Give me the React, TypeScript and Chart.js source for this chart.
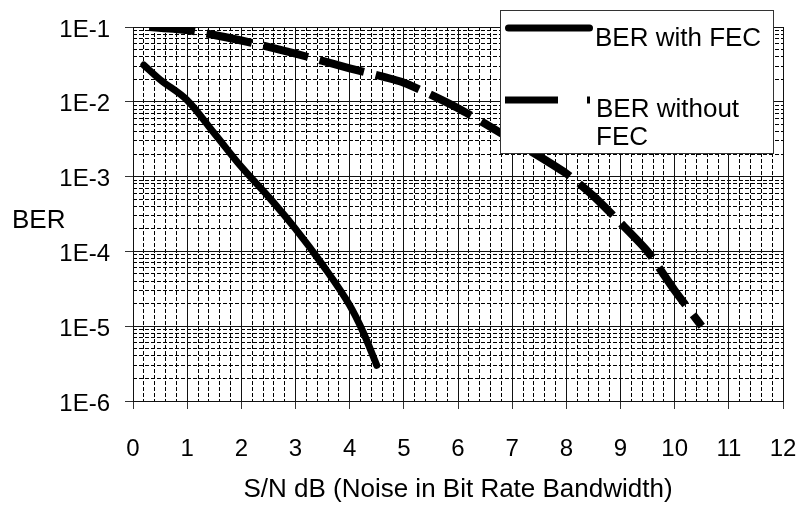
import React, { useEffect, useRef } from 'react';
import { Chart, registerables } from 'chart.js';

Chart.register(...registerables);

// ---- data ----
const fecX = [0.2, 0.5, 1, 1.5, 2, 2.5, 3, 3.5, 4, 4.25, 4.5];
const fecBER = [0.031, 0.0198, 0.0105, 0.0038, 0.00135, 0.00054, 0.0002, 0.000066, 0.000019, 0.0000083, 0.000003];

const noFecX = [0.3, 1, 2, 3, 4, 5, 6, 7, 8, 8.5, 9, 9.5, 10, 10.5];
const noFecBER = [0.1, 0.091, 0.066, 0.044, 0.028, 0.018, 0.0082, 0.0031, 0.0011, 0.00055, 0.00024, 0.0001, 0.00003, 0.00001];

const seriesNames = ['BER with FEC', 'BER without FEC'];

const yDecades = [1e-6, 1e-5, 1e-4, 1e-3, 1e-2, 1e-1];
const yTickLabels = ['1E-6', '1E-5', '1E-4', '1E-3', '1E-2', '1E-1'];
const yMinorFactors = [2, 3, 4, 5, 6, 7, 8, 9];

const xMin = 0;
const xMax = 12;
const xMajorStep = 1;
const xMinorStep = 0.2;

const yTitle = 'BER';
const xTitle = 'S/N dB (Noise in Bit Rate Bandwidth)';

const FONT = '"Liberation Sans", Arial, Helvetica, sans-serif';

const zeroPad = (s: any) => {
  s.paddingLeft = 0;
  s.paddingRight = 0;
  s.paddingTop = 0;
  s.paddingBottom = 0;
};

const overlayPlugin = {
  id: 'overlay',
  afterDraw(chart: any) {
    const { ctx, chartArea } = chart;
    const ds = chart.data.datasets;
    ctx.save();
    // y axis title (horizontal)
    ctx.fillStyle = '#000';
    ctx.font = `26px ${FONT}`;
    ctx.textBaseline = 'alphabetic';
    ctx.textAlign = 'left';
    ctx.fillText(yTitle, 12, 228);

    // legend box
    const left = chartArea.right - 283;
    const top = chartArea.top - 17;
    const w = 273;
    const h = 143;
    ctx.fillStyle = '#fff';
    ctx.fillRect(left, top, w, h);
    ctx.strokeStyle = '#333';
    ctx.lineWidth = 1;
    ctx.setLineDash([]);
    ctx.strokeRect(left + 0.5, top + 0.5, w, h);

    // sample 1: solid
    ctx.strokeStyle = ds[0].borderColor;
    ctx.lineWidth = 7;
    ctx.lineCap = 'round';
    ctx.beginPath();
    ctx.moveTo(left + 8.5, top + 18);
    ctx.lineTo(left + 89.5, top + 18);
    ctx.stroke();

    // sample 2: dashed
    ctx.strokeStyle = ds[1].borderColor;
    ctx.lineCap = 'butt';
    ctx.lineWidth = 7;
    ctx.setLineDash([53, 29]);
    ctx.beginPath();
    ctx.moveTo(left + 5, top + 90);
    ctx.lineTo(left + 90, top + 90);
    ctx.stroke();
    ctx.setLineDash([]);

    // texts with wrapping
    ctx.fillStyle = '#000';
    ctx.font = `26px ${FONT}`;
    const maxW = 175;
    const drawWrapped = (text: string, x: number, y: number, lh: number) => {
      const words = text.split(' ');
      let line = '';
      let yy = y;
      for (const word of words) {
        const test = line ? line + ' ' + word : word;
        if (ctx.measureText(test).width > maxW && line) {
          ctx.fillText(line, x, yy);
          line = word;
          yy += lh;
        } else {
          line = test;
        }
      }
      if (line) ctx.fillText(line, x, yy);
    };
    drawWrapped(seriesNames[0], left + 95, top + 36, 28);
    drawWrapped(seriesNames[1], left + 96, top + 107, 28);
    ctx.restore();
  },
};

export default function App() {
  const canvasRef = useRef<HTMLCanvasElement | null>(null);

  useEffect(() => {
    document.body.style.margin = '0';
    const canvas = canvasRef.current;
    if (!canvas) return;

    const chart = new Chart(canvas, {
      type: 'line',
      data: {
        datasets: [
          {
            label: seriesNames[0],
            data: fecX.map((x, i) => ({ x, y: fecBER[i] })),
            borderColor: '#000',
            borderWidth: 7,
            borderCapStyle: 'round',
            borderJoinStyle: 'round',
            pointRadius: 0,
            fill: false,
            cubicInterpolationMode: 'monotone',
          },
          {
            label: seriesNames[1],
            data: noFecX.map((x, i) => ({ x, y: noFecBER[i] })),
            borderColor: '#000',
            borderWidth: 8,
            borderDash: [46, 12],
            borderCapStyle: 'butt',
            pointRadius: 0,
            fill: false,
            tension: 0.2,
            clip: 0,
          },
        ] as any,
      },
      options: {
        animation: false,
        responsive: false,
        devicePixelRatio: 1,
        layout: { padding: { top: 27, right: 20, left: 0, bottom: 0 } },
        plugins: {
          legend: { display: false },
          tooltip: { enabled: false },
        },
        scales: {
          x2: {
            type: 'linear',
            position: 'bottom',
            min: xMin,
            max: xMax,
            ticks: { stepSize: xMinorStep, display: false },
            grid: { color: '#000', lineWidth: 1, drawTicks: false },
            border: { display: false, dash: [4, 2] },
            afterFit: (s: any) => { s.height = 0; zeroPad(s); },
          },
          y2: {
            type: 'logarithmic',
            position: 'left',
            min: yDecades[0],
            max: yDecades[yDecades.length - 1],
            afterBuildTicks: (s: any) => {
              const t: any[] = [];
              yDecades.slice(0, -1).forEach((d) => yMinorFactors.forEach((f) => t.push({ value: d * f })));
              s.ticks = t;
            },
            ticks: { display: false },
            grid: { color: '#000', lineWidth: 1, drawTicks: false },
            border: { display: false, dash: [4, 2] },
            afterFit: (s: any) => { s.width = 0; zeroPad(s); },
          },
          x: {
            type: 'linear',
            position: 'bottom',
            min: xMin,
            max: xMax,
            ticks: {
              stepSize: xMajorStep,
              autoSkip: false,
              maxRotation: 0,
              padding: 26,
              color: '#000',
              font: { family: FONT, size: 24 },
            },
            grid: { color: '#111', lineWidth: 1, drawTicks: true, tickLength: 8, tickColor: '#333' },
            border: { color: '#111', width: 1 },
            title: {
              display: true,
              text: xTitle,
              color: '#000',
              font: { family: FONT, size: 26 },
              padding: { top: 0, bottom: 3 },
            },
            afterFit: (s: any) => { s.height = 107; zeroPad(s); },
          },
          y: {
            type: 'logarithmic',
            position: 'left',
            min: yDecades[0],
            max: yDecades[yDecades.length - 1],
            afterBuildTicks: (s: any) => {
              s.ticks = yDecades.map((v) => ({ value: v, major: true }));
            },
            ticks: {
              autoSkip: false,
              padding: 15,
              labelOffset: 3,
              color: '#000',
              font: { family: FONT, size: 24 },
              callback: (_v: any, i: number) => yTickLabels[i],
            },
            grid: { color: '#111', lineWidth: 1, drawTicks: true, tickLength: 8, tickColor: '#333' },
            border: { color: '#111', width: 1 },
            afterFit: (s: any) => { s.width = 133; zeroPad(s); },
          },
        } as any,
      },
      plugins: [overlayPlugin],
    });

    return () => chart.destroy();
  }, []);

  return (
    <div style={{ position: 'absolute', left: 0, top: 0, width: 803, height: 508 }}>
      <canvas ref={canvasRef} width={803} height={508} style={{ width: 803, height: 508, display: 'block' }} />
    </div>
  );
}
